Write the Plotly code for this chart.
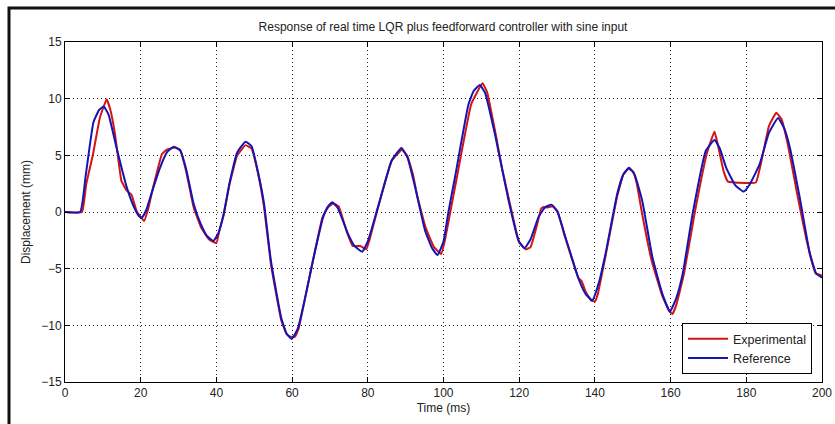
import plotly.graph_objects as go

# Reference (blue) trace: time (ms) and displacement (mm)
ref_t = [0, 4, 5.5, 7.5, 9, 10.2, 11.5, 13.6, 16.3, 18, 19.5, 20.3, 21.5, 23, 25.1, 27, 28.7, 30.5, 32, 34,
         35.8, 37.5, 39.2, 40.5, 41.9, 43.5, 45.5, 47.7, 49.3, 51, 52.6, 54.4, 57.1, 58.5, 59.9, 61.5, 63.3,
         65.5, 68.2, 69.5, 70.6, 72, 74.8, 76.5, 78.5, 80, 82.7, 86.3, 88.9, 90.5, 92.5, 95.1, 97, 98.4, 100,
         101.3, 103, 106.6, 108, 109.6, 111, 113.6, 117.2, 119.8, 121.4, 123, 125.1, 126.8, 128.5, 130, 132.2,
         135.8, 137.5, 139.3, 141, 142.8, 145.9, 147.5, 149, 150.5, 152.5, 155.2, 157.8, 159.8, 161.5, 163.2,
         165.8, 169.3, 171.6, 173, 174.7, 177, 179.3, 181, 183.5, 186, 188.4, 190, 191.5, 194.1, 196.8, 198.5, 200]
ref_v = [0, 0, 3.3, 7.9, 9.0, 9.3, 8.6, 5.7, 2.2, 0.6, -0.35, -0.5, 0.2, 1.8, 3.9, 5.3, 5.75, 5.4, 3.8, 0.7,
         -1.0, -2.1, -2.55, -1.9, -0.2, 2.6, 5.25, 6.2, 5.8, 3.5, 0.7, -4.3, -9.3, -10.7, -11.2, -10.3, -7.8,
         -4.3, -0.45, 0.5, 0.85, 0.4, -1.95, -3.0, -3.5, -2.6, 0.45, 4.55, 5.65, 4.8, 2.2, -1.6, -3.2, -3.8, -2.6,
         0.0, 3.0, 9.5, 10.7, 11.2, 10.5, 6.85, 1.0, -2.5, -3.2, -2.4, -0.45, 0.4, 0.65, 0.1, -2.2,
         -6.0, -7.2, -7.8, -6.3, -3.7, 1.6, 3.3, 3.9, 3.3, 1.0, -4.0, -7.2, -8.8, -7.6, -5.45,
         -0.2, 5.4, 6.35, 5.6, 3.9, 2.4, 1.8, 2.5, 4.2, 7.0, 8.3, 7.4, 5.7, 1.3, -3.7, -5.45, -5.8]

# Experimental (red) trace
exp_t = [0, 4.5, 5.6, 7.4, 9.2, 11, 12, 13.2, 14.9, 16.3, 17.6, 18.9, 20.9, 22, 23.3, 25.6, 26.9, 29.1, 30.4,
         32, 34, 36, 38, 40, 40.8, 41.9, 43.5, 45.5, 47.7, 49.3, 51, 52.6, 54.4, 57.1, 58.6, 59.5, 60.8, 61.8,
         63.3, 65.5, 68, 69.5, 70.8, 72.3, 74.5, 76, 78, 79.6, 80.5, 82.7, 86.3, 89, 90.5, 92, 93, 95.3, 97.5,
         99.4, 100.3, 101.8, 103.5, 107.3, 110.3, 111.5, 114, 115.5, 117.5, 120, 121.8, 123, 124.6, 125.8,
         126.5, 127.5, 128.8, 130.2, 132, 134, 135.6, 136.5, 137.5, 139, 140, 140.8, 142.8, 145.9, 147.5,
         148.8, 150, 151, 152.5, 155, 157.8, 159.8, 160.5, 161.5, 163.5, 166.3, 169.6, 171.6, 172.5, 174,
         175.1, 177, 182.5, 184, 186, 187.9, 189.3, 191, 193.5, 196, 198.3, 199.2, 200]
exp_v = [0, 0, 2.45, 5.1, 8.3, 9.95, 9.0, 6.9, 2.75, 1.9, 1.5, 0.1, -0.8, 0.3, 2.2, 5.1, 5.5, 5.7, 5.5,
         3.6, 0.4, -1.4, -2.4, -2.75, -1.6, -0.3, 2.5, 5.0, 5.9, 5.6, 3.4, 0.4, -4.6, -9.5, -10.8, -11.0, -11.0, -10.2,
         -7.8, -4.3, -0.5, 0.4, 0.75, 0.5, -1.8, -3.0, -3.0, -3.3, -2.4, 0.4, 4.5, 5.5, 4.9, 3.2, 1.5, -1.4, -3.1,
         -3.7, -2.6, 0.0, 3.0, 9.5, 11.35, 10.6, 6.5, 3.8, 0.8, -2.7, -3.3, -3.1, -1.3, 0.3,
         0.45, 0.4, 0.5, 0.0, -2.1, -4.2, -5.8, -6.1, -7.0, -7.8, -7.9, -7.2, -3.9, 1.4, 3.3,
         3.8, 3.6, 2.6, -0.2, -4.3, -7.4, -8.8, -9.0, -8.2, -5.5, -0.2, 5.2, 7.1, 5.9, 3.6,
         2.7, 2.6, 2.6, 4.5, 7.6, 8.75, 8.2, 5.9, 1.5, -2.6, -5.4, -5.5, -5.6]

x_ticks = [0, 20, 40, 60, 80, 100, 120, 140, 160, 180, 200]
y_ticks = [-15, -10, -5, 0, 5, 10, 15]

title_text = "Response of real time LQR plus feedforward controller with sine input"
x_label = "Time (ms)"
y_label = "Displacement (mm)"

FONT = "Liberation Sans, Arial, sans-serif"

fig = go.Figure()
fig.add_trace(go.Scatter(x=exp_t, y=exp_v, mode="lines", name="Experimental",
                         line=dict(color="#d41414", width=2, shape="spline", smoothing=0.3)))
fig.add_trace(go.Scatter(x=ref_t, y=ref_v, mode="lines", name="Reference",
                         line=dict(color="#1414b4", width=2, shape="spline", smoothing=0.4)))

axis_common = dict(showline=True, linecolor="black", linewidth=1, mirror="ticks",
                   ticks="inside", ticklen=5, tickcolor="black", automargin=False,
                   showgrid=True, gridcolor="#222222", griddash="1px,3px", gridwidth=1,
                   zeroline=False, tickfont=dict(family=FONT, size=12, color="#222222"))

fig.update_xaxes(range=[0, 200], tickvals=x_ticks,
                 title=dict(text=x_label, font=dict(family=FONT, size=12, color="#222222"), standoff=4),
                 **axis_common)
fig.update_yaxes(range=[-15, 15], tickvals=y_ticks,
                 title=dict(text=y_label, font=dict(family=FONT, size=12, color="#222222"), standoff=8),
                 **axis_common)

fig.update_layout(
    width=835, height=424,
    margin=dict(l=65, r=13, t=42, b=42, autoexpand=False),
    paper_bgcolor="white", plot_bgcolor="white",
    title=dict(text=title_text, x=(443 / 835), xanchor="center", y=1 - 27 / 424, yanchor="middle",
               font=dict(family=FONT, size=12, color="#222222")),
    legend=dict(x=(812 - 65) / 757, y=(382 - 374) / 340, xanchor="right", yanchor="bottom",
                bgcolor="white", bordercolor="black", borderwidth=1,
                font=dict(family=FONT, size=12.5, color="#222222"),
                tracegroupgap=0, itemwidth=40),
    showlegend=True,
)

# figure frame (cropped MATLAB figure border)
fig.add_shape(type="rect", xref="paper", yref="paper",
              x0=(9 - 65) / 757, x1=1.1, y0=-0.3, y1=1 + (42 - 8) / 340,
              line=dict(color="#111111", width=3), fillcolor="rgba(0,0,0,0)", layer="above")

fig.write_html("out.html")
